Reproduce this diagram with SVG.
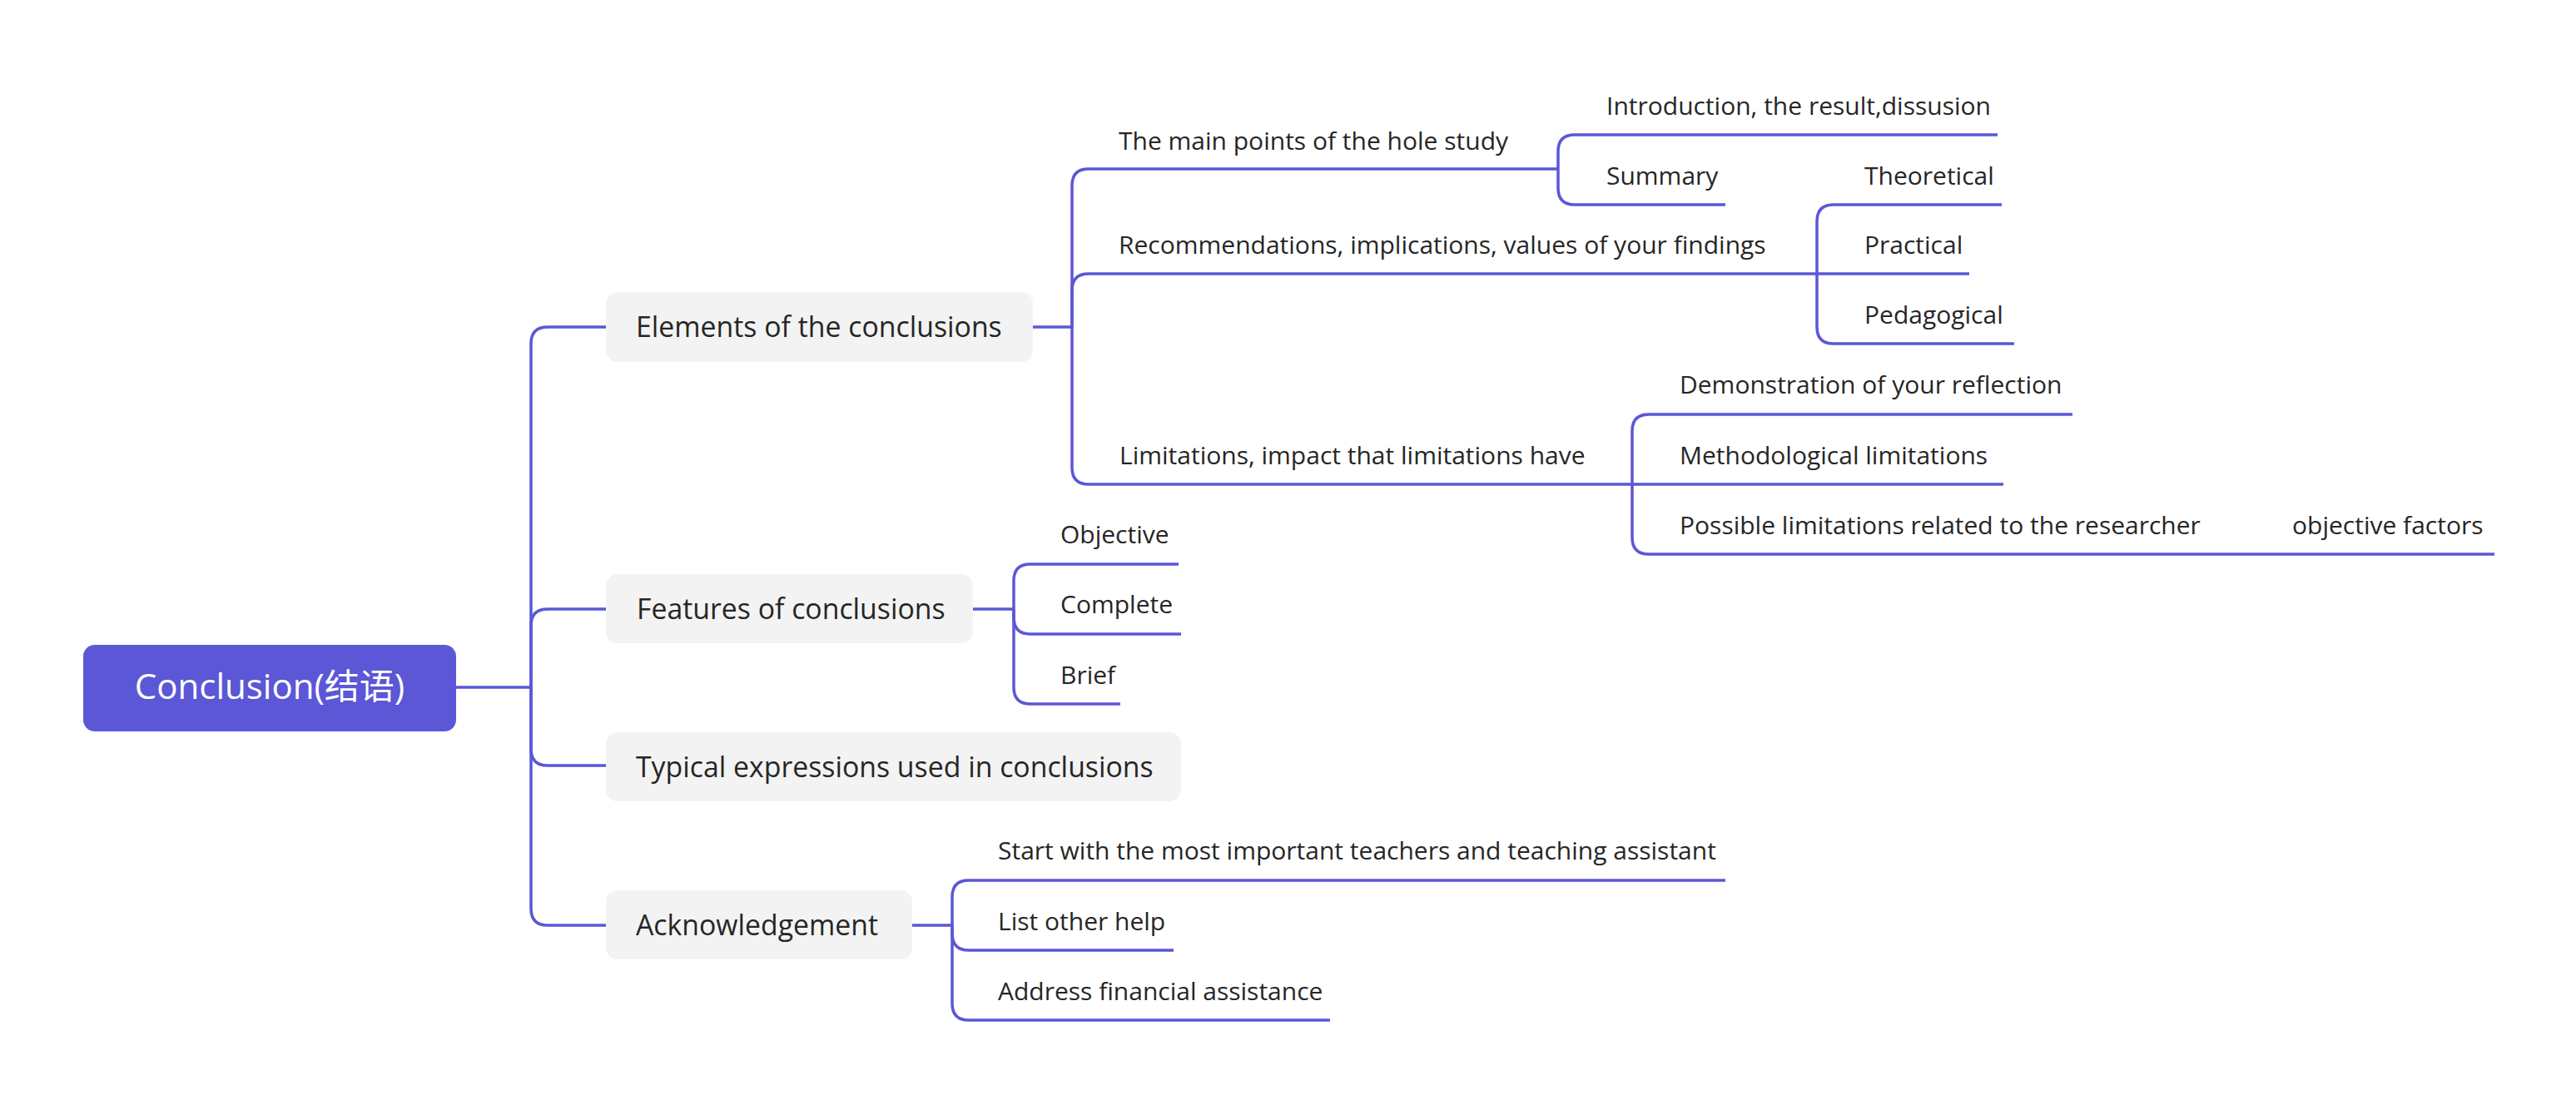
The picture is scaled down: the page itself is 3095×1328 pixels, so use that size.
<svg xmlns="http://www.w3.org/2000/svg" width="3095" height="1328" viewBox="0 0 3095 1328">
<style>
.c{fill:none;stroke:#5b57d6;stroke-width:3.5;stroke-linecap:butt}
.box{fill:#f3f3f3}
.t1{font-family:"Open Sans","Noto Sans CJK SC",sans-serif;font-size:33.8px;fill:#262626}
.t2{font-family:"Open Sans","Noto Sans CJK SC",sans-serif;font-size:30px;fill:#262626}
.root{font-family:"Open Sans","Noto Sans CJK SC",sans-serif;font-size:42px;fill:#ffffff}
</style>
<rect width="3095" height="1328" fill="#ffffff"/>
<g id="connectors">
<path class="c" d="M548,826 H638"/>
<path class="c" d="M638,826 V413 Q638,393 658,393 H728"/>
<path class="c" d="M638,826 V752 Q638,732 658,732 H728"/>
<path class="c" d="M638,826 V900 Q638,920 658,920 H728"/>
<path class="c" d="M638,826 V1092 Q638,1112 658,1112 H728"/>
<path class="c" d="M1241,393 H1288"/>
<path class="c" d="M1288,393 V223 Q1288,203 1308,203 H1872"/>
<path class="c" d="M1288,393 V349 Q1288,329 1308,329 H2183"/>
<path class="c" d="M1288,393 V562 Q1288,582 1308,582 H1961"/>
<path class="c" d="M1872,203 V182 Q1872,162 1892,162 H2400"/>
<path class="c" d="M1872,203 V226 Q1872,246 1892,246 H2073"/>
<path class="c" d="M2183,329 V266 Q2183,246 2203,246 H2405"/>
<path class="c" d="M2183,329 H2366"/>
<path class="c" d="M2183,329 V393 Q2183,413 2203,413 H2420"/>
<path class="c" d="M1961,582 V518 Q1961,498 1981,498 H2490"/>
<path class="c" d="M1961,582 H2407"/>
<path class="c" d="M1961,582 V646 Q1961,666 1981,666 H2697"/>
<path class="c" d="M2697,666 H2997"/>
<path class="c" d="M1169,732 H1218"/>
<path class="c" d="M1218,732 V698 Q1218,678 1238,678 H1416"/>
<path class="c" d="M1218,732 V742 Q1218,762 1238,762 H1419"/>
<path class="c" d="M1218,732 V826 Q1218,846 1238,846 H1346"/>
<path class="c" d="M1096,1112 H1144"/>
<path class="c" d="M1144,1112 V1078 Q1144,1058 1164,1058 H2073"/>
<path class="c" d="M1144,1112 V1122 Q1144,1142 1164,1142 H1410"/>
<path class="c" d="M1144,1112 V1206 Q1144,1226 1164,1226 H1598"/>
</g>
<g id="root"><rect x="100" y="775" width="448" height="104" rx="14" fill="#5b57d6"/><text class="root" x="324" y="840" text-anchor="middle">Conclusion(结语)</text></g>
<g id="elements"><rect class="box" x="728" y="351" width="513" height="84" rx="14"/><text class="t1" x="764" y="405">Elements of the conclusions</text></g>
<g id="features"><rect class="box" x="728" y="690" width="441" height="83" rx="14"/><text class="t1" x="765" y="744">Features of conclusions</text></g>
<g id="typical"><rect class="box" x="728" y="880" width="691" height="83" rx="14"/><text class="t1" x="764" y="934">Typical expressions used in conclusions</text></g>
<g id="ack"><rect class="box" x="728" y="1070" width="368" height="83" rx="14"/><text class="t1" x="764" y="1124">Acknowledgement</text></g>
<g id="mainpoints"><text class="t2" x="1344" y="180">The main points of the hole study</text></g>
<g id="intro"><text class="t2" x="1930" y="138">Introduction, the result,dissusion</text></g>
<g id="summary"><text class="t2" x="1930" y="222">Summary</text></g>
<g id="recom"><text class="t2" x="1344" y="305">Recommendations, implications, values of your findings</text></g>
<g id="theoretical"><text class="t2" x="2240" y="222">Theoretical</text></g>
<g id="practical"><text class="t2" x="2240" y="305">Practical</text></g>
<g id="pedagogical"><text class="t2" x="2240" y="389">Pedagogical</text></g>
<g id="limitations"><text class="t2" x="1345" y="558">Limitations, impact that limitations have</text></g>
<g id="demo"><text class="t2" x="2018" y="473">Demonstration of your reflection</text></g>
<g id="method"><text class="t2" x="2018" y="558">Methodological limitations</text></g>
<g id="possible"><text class="t2" x="2018" y="642">Possible limitations related to the researcher</text></g>
<g id="objfactors"><text class="t2" x="2754" y="642">objective factors</text></g>
<g id="objective"><text class="t2" x="1274" y="653">Objective</text></g>
<g id="complete"><text class="t2" x="1274" y="737">Complete</text></g>
<g id="brief"><text class="t2" x="1274" y="822">Brief</text></g>
<g id="start"><text class="t2" x="1199" y="1033">Start with the most important teachers and teaching assistant</text></g>
<g id="listother"><text class="t2" x="1199" y="1118">List other help</text></g>
<g id="address"><text class="t2" x="1199" y="1202">Address financial assistance</text></g>
</svg>
